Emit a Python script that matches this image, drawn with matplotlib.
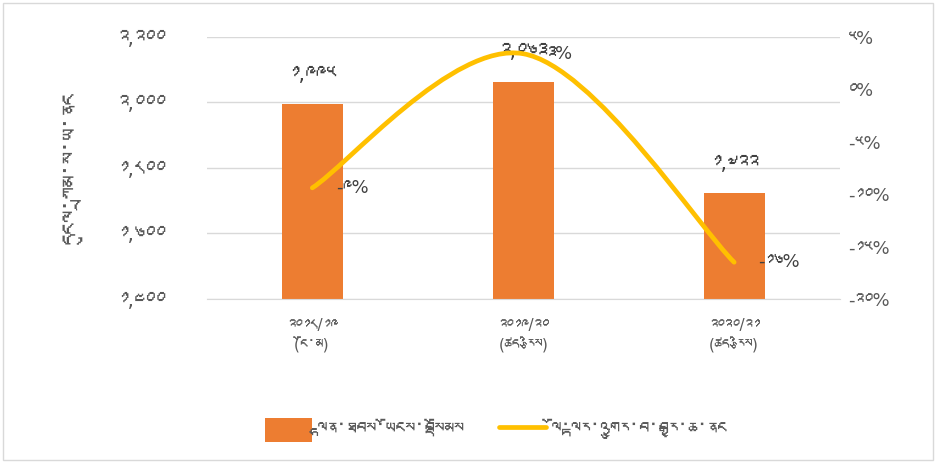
import matplotlib
matplotlib.use("Agg")
import matplotlib.pyplot as plt
from matplotlib import font_manager
from matplotlib.path import Path
from matplotlib.patches import PathPatch, Patch, Rectangle
from matplotlib.lines import Line2D
from matplotlib.ticker import FuncFormatter, MultipleLocator

# ---- Data ---------------------------------------------------------------
years = ["༢༠༡༨/༡༩", "༢༠༡༩/༢༠", "༢༠༢༠/༢༡"]
status = ["(ངོ་མ)", "(ཚད་རྩིས)", "(ཚད་རྩིས)"]
total_aid = [1995, 2063, 1722]          # bars, left axis
growth_pct = [-9.4, 3.4, -16.5]         # line, right axis

bar_label = "ལྷན་ཐབས་ཡོངས་བསྡོམས"
line_label = "ལོ་ལྟར་འགྱུར་བ་བརྒྱ་ཆ་ནང"
y_title = "དངུལ་ཀྲམ་ས་ཡ་ནང"

# ---- Style --------------------------------------------------------------
ORANGE = "#ED7D31"
YELLOW = "#FFC000"
GRID = "#D9D9D9"
TEXT = "#595959"


def find_tibetan_font():
    # look for any installed font that carries Tibetan glyphs
    try:
        from fontTools.ttLib import TTFont
    except ImportError:
        return None
    for f in font_manager.fontManager.ttflist:
        try:
            cmap = TTFont(f.fname, fontNumber=0, lazy=True).getBestCmap()
        except Exception:
            continue
        if cmap and 0x0F40 in cmap and 0x0F21 in cmap:
            return f.name
    return None


tib = find_tibetan_font()
# DejaVu first for punctuation / minus / percent, Tibetan glyphs fall back
plt.rcParams["font.family"] = ["DejaVu Sans"] + ([tib] if tib else [])
plt.rcParams["axes.unicode_minus"] = False

TIB_DIGITS = str.maketrans("0123456789", "༠༡༢༣༤༥༦༧༨༩")


def tib_num(v, pct=False):
    s = f"{v:.0f}%" if pct else f"{v:,.0f}"
    return s.translate(TIB_DIGITS)


# ---- Figure -------------------------------------------------------------
fig = plt.figure(figsize=(9.36, 4.62), dpi=100)
fig.patches.append(Rectangle((0.003, 0.004), 0.994, 0.99, transform=fig.transFigure,
                             fill=False, edgecolor=GRID, linewidth=1.0))

ax = fig.add_axes([0.221, 0.353, 0.676, 0.567])
ax2 = ax.twinx()

x = list(range(len(years)))
ax.bar(x, total_aid, width=0.29, color=ORANGE, zorder=2)
ax.set_xlim(-0.5, len(years) - 0.5)
ax.set_ylim(1400, 2200)
ax.yaxis.set_major_locator(MultipleLocator(200))
ax.yaxis.set_major_formatter(FuncFormatter(lambda v, p: tib_num(v)))
ax.grid(axis="y", color=GRID, linewidth=1.0, zorder=0)
ax.set_axisbelow(True)
ax.set_xticks(x)
ax.set_xticklabels([f"{a}\n{b}" for a, b in zip(years, status)],
                   fontsize=11, color=TEXT, linespacing=1.3)
ax.tick_params(axis="x", length=0, pad=14)
ax.tick_params(axis="y", length=0, pad=30, labelsize=15, labelcolor=TEXT)
ax.set_ylabel(y_title, fontsize=17, color=TEXT, labelpad=24)

for s in ["top", "left", "right"]:
    ax.spines[s].set_visible(False)
ax.spines["bottom"].set_color(GRID)

for xi, v in zip(x, total_aid):
    ax.annotate(tib_num(v), (xi, v), xytext=(0, 14), textcoords="offset points",
                ha="center", va="bottom", fontsize=15, color="#404040")

# ---- Smoothed growth line (Bezier through the data points) --------------
ax2.set_ylim(-20, 5)
ax2.yaxis.set_major_locator(MultipleLocator(5))
ax2.yaxis.set_major_formatter(FuncFormatter(lambda v, p: tib_num(v, pct=True)))
ax2.tick_params(axis="y", length=0, pad=6, labelsize=13, labelcolor=TEXT)
for s in ax2.spines.values():
    s.set_visible(False)

pts = list(zip(x, growth_pct))
verts = [pts[0]]
codes = [Path.MOVETO]
for i in range(len(pts) - 1):
    p0 = pts[max(i - 1, 0)]
    p1 = pts[i]
    p2 = pts[i + 1]
    p3 = pts[min(i + 2, len(pts) - 1)]
    c1 = (p1[0] + (p2[0] - p0[0]) / 6, p1[1] + (p2[1] - p0[1]) / 6)
    c2 = (p2[0] - (p3[0] - p1[0]) / 6, p2[1] - (p3[1] - p1[1]) / 6)
    verts += [c1, c2, p2]
    codes += [Path.CURVE4] * 3
ax2.add_patch(PathPatch(Path(verts, codes), fill=False, edgecolor=YELLOW,
                        linewidth=3.4, capstyle="round", zorder=3))

for xi, v in zip(x, growth_pct):
    ax2.annotate(tib_num(v, pct=True), (xi, v), xytext=(17, 0),
                 textcoords="offset points", ha="left", va="center",
                 fontsize=13, color="#404040")

# ---- Legend -------------------------------------------------------------
handles = [Patch(facecolor=ORANGE, edgecolor="none"),
           Line2D([0], [0], color=YELLOW, linewidth=3.4, solid_capstyle="round")]
fig.legend(handles, [bar_label, line_label], loc="center", ncol=2,
           bbox_to_anchor=(0.53, 0.07), frameon=False, fontsize=14,
           labelcolor=TEXT, handlelength=2.4, handleheight=1.5,
           handletextpad=0.3, columnspacing=1.8)

fig.savefig("out.png", dpi=100)
